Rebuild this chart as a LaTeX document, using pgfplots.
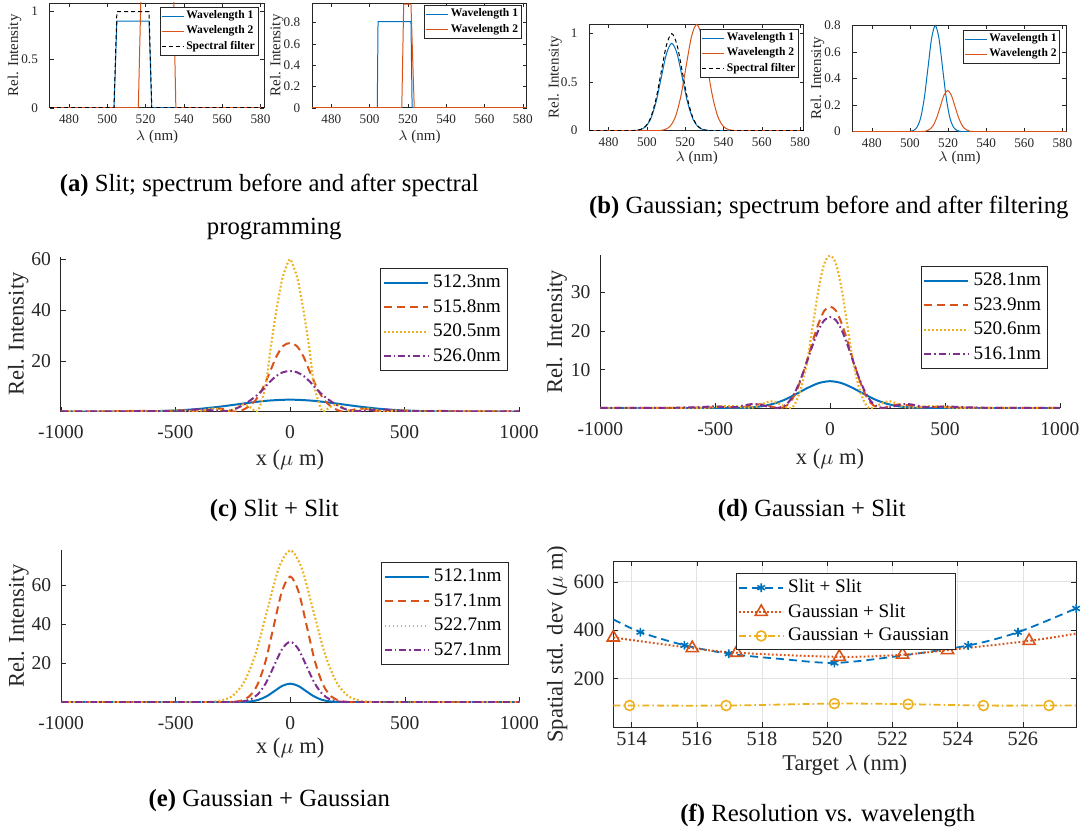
\documentclass[border=0pt]{standalone}
\usepackage{fontspec}
\setmainfont{Liberation Serif}
\usepackage{pgfplots}
\pgfplotsset{compat=1.18}
\definecolor{mblue}{rgb}{0,0.447,0.741}
\definecolor{morange}{rgb}{0.85,0.325,0.098}
\definecolor{myellow}{rgb}{0.929,0.694,0.125}
\definecolor{mpurple}{rgb}{0.494,0.184,0.556}
\definecolor{maxis}{rgb}{0.15,0.15,0.15}
\pgfplotsset{
  base/.style={scale only axis, anchor=south west, tick align=inside,
    axis line style={maxis}, every tick/.append style={maxis},
    /pgf/number format/assume math mode=true,
    tick label style={text=maxis}, label style={text=maxis},
    legend cell align=left, legend style={draw=maxis, fill=white, text=black}},
  smallax/.style={base, xmin=470, xmax=582, ymin=0, xtick={480,500,...,580},
    major tick length=2pt,
    tick label style={font=\fontsize{6.6}{8}\selectfont},
    label style={font=\fontsize{7.5}{9}\selectfont},
    xlabel={$\lambda$ (nm)}, ylabel={Rel. Intensity},
    yticklabel style={xshift=-2.5pt},
    legend style={font=\fontsize{5.8}{7}\selectfont\bfseries, inner sep=0.5pt, nodes={inner sep=1.1pt}},
    legend image code/.code={\draw[##1] (0pt,0pt) -- (11pt,0pt);}},
  midax/.style={base, axis lines*=left, x axis line style={-}, y axis line style={-},
    xmin=-1000, xmax=1000, ymin=0,
    xtick={-1000,-500,0,500,1000}, xticklabels={-1000,-500,0,500,1000},
    major tick length=2.5pt,
    tick label style={font=\fontsize{9.8}{11}\selectfont},
    label style={font=\fontsize{11.3}{13}\selectfont},
    xlabel={x ($\mu$ m)}, ylabel={Rel. Intensity},
    xticklabel style={yshift=-3.5pt}, yticklabel style={xshift=-1.5pt},
    legend style={font=\fontsize{9.6}{11}\selectfont, inner sep=1pt, nodes={inner sep=2.2pt}},
    legend image code/.code={\draw[##1] (0pt,0pt) -- (22pt,0pt);}},
  thinl/.style={line width=0.5pt},
  solidl/.style={line width=1pt, smooth},
  dashl/.style={line width=1pt, smooth, dash pattern=on 4pt off 2.5pt},
  dotl/.style={line width=1.1pt, smooth, dash pattern=on 0.9pt off 1.1pt},
  dashdotl/.style={line width=1pt, smooth, dash pattern=on 3.5pt off 1.5pt on 0.8pt off 1.5pt},
}
\begin{document}
\begin{tikzpicture}
\path (0pt,0pt) rectangle (543pt,418pt);

% ---------------- (a) left
\begin{axis}[smallax, at={(25pt,364pt)}, width=107.5pt, height=52.5pt, ymax=1.09,
  ytick={0,0.5,1},
  xlabel style={at={(axis description cs:0.5,-0.276)},anchor=center},
  ylabel style={at={(axis description cs:-0.165,0.5)},anchor=center},
  legend style={at={(0.972,0.962)},anchor=north east}]
\addplot[mblue, thinl] coordinates {(470,0)(503.5,0)(505,0.9)(521.8,0.9)(523.2,0)(582,0)};
\addlegendentry{Wavelength 1}
\addplot[morange, thinl] coordinates {(470,0)(516.2,0)(517.6,1.2)(534.6,1.2)(535.8,0)(582,0)};
\addlegendentry{Wavelength 2}
\addplot[black, thinl, dash pattern=on 2pt off 1.5pt] coordinates {(470,0)(503.5,0)(505,1)(521.8,1)(523.2,0)(582,0)};
\addlegendentry{Spectral filter}
\end{axis}

% ---------------- (a) right
\begin{axis}[smallax, at={(156.5pt,364pt)}, width=107.5pt, height=52.5pt, ymax=0.985,
  ytick={0,0.2,0.4,0.6,0.8},
  xlabel style={at={(axis description cs:0.5,-0.276)},anchor=center},
  ylabel style={at={(axis description cs:-0.165,0.5)},anchor=center},
  legend style={at={(0.977,0.98)},anchor=north east}]
\addplot[mblue, thinl] coordinates {(470,0)(504,0)(504.4,0.81)(521.6,0.81)(522.2,0)(582,0)};
\addlegendentry{Wavelength 1}
\addplot[morange, thinl] coordinates {(470,0)(516.8,0)(517.8,0.975)(521.6,0.975)(523.3,0)(582,0)};
\addlegendentry{Wavelength 2}
\end{axis}

% ---------------- (b) left
\begin{axis}[smallax, at={(295.5pt,352.5pt)}, width=107.5pt, height=53.5pt, ymax=1.1,
  ytick={0,0.5,1},
  xlabel style={at={(axis description cs:0.5,-0.252)},anchor=center},
  ylabel style={at={(axis description cs:-0.16,0.5)},anchor=center},
  legend style={at={(0.977,0.953)},anchor=north east}]
\addplot[mblue, thinl, smooth] coordinates {(470,0)(490,0)(493.75,0.002)(496.5,0.010)(499.25,0.040)(502,0.122)(504.75,0.292)(507.5,0.546)(510.25,0.794)(513,0.9)(515.75,0.794)(518.5,0.546)(521.25,0.292)(524,0.122)(526.75,0.040)(529.5,0.010)(532.25,0.002)(536,0)(582,0)};
\addlegendentry{Wavelength 1}
\addplot[morange, thinl, smooth] coordinates {(470,0)(503,0)(506.75,0.002)(509.5,0.012)(512.25,0.048)(515,0.148)(517.75,0.356)(520.5,0.664)(523.25,0.966)(526,1.095)(528.75,0.966)(531.5,0.664)(534.25,0.356)(537,0.148)(539.75,0.048)(542.5,0.012)(545.25,0.002)(549,0)(582,0)};
\addlegendentry{Wavelength 2}
\addplot[black, thinl, smooth, dash pattern=on 2pt off 1.5pt] coordinates {(470,0)(490,0)(493.75,0.002)(496.5,0.011)(499.25,0.044)(502,0.135)(504.75,0.325)(507.5,0.607)(510.25,0.883)(513,1)(515.75,0.883)(518.5,0.607)(521.25,0.325)(524,0.135)(526.75,0.044)(529.5,0.011)(532.25,0.002)(536,0)(582,0)};
\addlegendentry{Spectral filter}
\end{axis}

% ---------------- (b) right
\begin{axis}[smallax, at={(427.5pt,352pt)}, width=107pt, height=53.5pt, ymax=0.805,
  ytick={0,0.2,0.4,0.6,0.8},
  xlabel style={at={(axis description cs:0.5,-0.243)},anchor=center},
  ylabel style={at={(axis description cs:-0.165,0.5)},anchor=center},
  legend style={at={(0.972,0.953)},anchor=north east}]
\addplot[mblue, thinl, smooth] coordinates {(470,0)(497,0)(500,0.002)(501.9,0.009)(503.8,0.035)(505.7,0.108)(507.6,0.260)(509.5,0.485)(511.4,0.706)(513.3,0.8)(515.2,0.706)(517.1,0.485)(519,0.260)(520.9,0.108)(522.8,0.035)(524.7,0.009)(526.6,0.002)(530,0)(582,0)};
\addlegendentry{Wavelength 1}
\addplot[morange, thinl, smooth] coordinates {(470,0)(503,0)(506.15,0.001)(508.1,0.003)(510.05,0.014)(512,0.042)(513.95,0.101)(515.9,0.188)(517.85,0.274)(519.8,0.31)(521.75,0.274)(523.7,0.188)(525.65,0.101)(527.6,0.042)(529.55,0.014)(531.5,0.003)(533.45,0.001)(537,0)(582,0)};
\addlegendentry{Wavelength 2}
\end{axis}

% ---------------- (c)
\begin{axis}[midax, at={(30.5pt,211.65pt)}, width=229.7pt, height=77.7pt, ymax=61,
  ytick={20,40,60},
  xlabel style={at={(axis description cs:0.5,-0.31)},anchor=center},
  ylabel style={at={(axis description cs:-0.093,0.5)},anchor=center},
  legend style={at={(0.975,0.925)},anchor=north east}]
\addplot[mblue, solidl] coordinates {(-1000,0)(-800,0.02)(-700,0.05)(-600,0.16)(-500,0.44)(-400,1.04)(-300,2.01)(-200,3.22)(-100,4.28)(0,4.7)(100,4.28)(200,3.22)(300,2.01)(400,1.04)(500,0.44)(600,0.16)(700,0.05)(800,0.02)(1000,0)};
\addlegendentry{512.3nm}
\addplot[morange, dashl] coordinates {(-1000,0.1)(-800,0.1)(-650,0.3)(-560,0.1)(-500,0.4)(-450,0.5)(-400,0.1)(-360,0.5)(-320,1.2)(-280,0.8)(-240,0)(-210,0.5)(-180,2)(-150,4.5)(-120,9)(-90,15)(-60,21.5)(-30,25.8)(0,27)(30,25.8)(60,21.5)(90,15)(120,9)(150,4.5)(180,2)(210,0.5)(240,0)(280,0.8)(320,1.2)(360,0.5)(400,0.1)(450,0.5)(500,0.4)(560,0.1)(650,0.3)(800,0.1)(1000,0.1)};
\addlegendentry{515.8nm}
\addplot[myellow, dotl] coordinates {(-1000,0)(-700,0.1)(-600,0.2)(-520,0.3)(-470,0.5)(-420,0)(-380,0.5)(-340,1.2)(-300,0.6)(-265,0.1)(-235,1.5)(-205,2.8)(-175,1.8)(-145,0)(-126,3.5)(-104,11.4)(-85,24.5)(-63,37.7)(-37,50.8)(-20,56)(0,60)(20,56)(37,50.8)(63,37.7)(85,24.5)(104,11.4)(126,3.5)(145,0)(175,1.8)(205,2.8)(235,1.5)(265,0.1)(300,0.6)(340,1.2)(380,0.5)(420,0)(470,0.5)(520,0.3)(600,0.2)(700,0.1)(1000,0)};
\addlegendentry{520.5nm}
\addplot[mpurple, dashdotl] coordinates {(-1000,0.1)(-800,0.1)(-600,0.2)(-500,0.3)(-450,0.5)(-400,0.9)(-340,0.5)(-300,0.2)(-270,0.3)(-240,1)(-210,2.3)(-180,4)(-150,6)(-120,8.5)(-90,11.5)(-60,14)(-30,15.5)(0,16)(30,15.5)(60,14)(90,11.5)(120,8.5)(150,6)(180,4)(210,2.3)(240,1)(270,0.3)(300,0.2)(340,0.5)(400,0.9)(450,0.5)(500,0.3)(600,0.2)(800,0.1)(1000,0.1)};
\addlegendentry{526.0nm}
\end{axis}

% ---------------- (d)
\begin{axis}[midax, at={(301pt,213.35pt)}, width=230.3pt, height=76.65pt, ymax=39.6,
  ytick={10,20,30},
  xlabel style={at={(axis description cs:0.5,-0.333)},anchor=center},
  ylabel style={at={(axis description cs:-0.095,0.5)},anchor=center},
  legend style={at={(0.974,0.928)},anchor=north east}]
\addplot[mblue, solidl] coordinates {(-1000,0)(-500,0)(-400,0.06)(-350,0.19)(-300,0.49)(-250,1.1)(-200,2.14)(-150,3.6)(-100,5.2)(-50,6.5)(0,7)(50,6.5)(100,5.2)(150,3.6)(200,2.14)(250,1.1)(300,0.49)(350,0.19)(400,0.06)(500,0)(1000,0)};
\addlegendentry{528.1nm}
\addplot[morange, dashl] coordinates {(-1000,0.1)(-700,0.1)(-530,0.2)(-480,0.4)(-430,0.2)(-380,0.3)(-340,0.8)(-300,1.0)(-260,0.5)(-225,0)(-200,0.3)(-175,1.5)(-150,4)(-125,7.8)(-100,12.5)(-75,17.5)(-50,22)(-25,25.3)(0,26.3)(25,25.3)(50,22)(75,17.5)(100,12.5)(125,7.8)(150,4)(175,1.5)(200,0.3)(225,0)(260,0.5)(300,1.0)(340,0.8)(380,0.3)(430,0.2)(480,0.4)(530,0.2)(700,0.1)(1000,0.1)};
\addlegendentry{523.9nm}
\addplot[myellow, dotl] coordinates {(-1000,0)(-600,0.1)(-520,0.2)(-470,0.5)(-420,0.5)(-370,0.2)(-330,0.2)(-290,1.2)(-260,1.8)(-230,1.4)(-200,0.5)(-170,0)(-150,1.5)(-125,5.5)(-100,12)(-75,21.5)(-50,31)(-25,37.5)(0,39.5)(25,37.5)(50,31)(75,21.5)(100,12)(125,5.5)(150,1.5)(170,0)(200,0.5)(230,1.4)(260,1.8)(290,1.2)(330,0.2)(370,0.2)(420,0.5)(470,0.5)(520,0.2)(600,0.1)(1000,0)};
\addlegendentry{520.6nm}
\addplot[mpurple, dashdotl] coordinates {(-1000,0.1)(-700,0.1)(-560,0.3)(-510,0.5)(-460,0.3)(-410,0.3)(-370,0.8)(-330,1.1)(-290,0.7)(-240,0)(-200,0.6)(-175,2)(-150,4.5)(-125,8)(-100,12.2)(-75,16.5)(-50,20.3)(-25,22.8)(0,23.6)(25,22.8)(50,20.3)(75,16.5)(100,12.2)(125,8)(150,4.5)(175,2)(200,0.6)(240,0)(290,0.7)(330,1.1)(370,0.8)(410,0.3)(460,0.3)(510,0.5)(560,0.3)(700,0.1)(1000,0.1)};
\addlegendentry{516.1nm}
\end{axis}

% ---------------- (e)
\begin{axis}[midax, at={(30.65pt,66pt)}, width=229.7pt, height=76.15pt, ymax=78,
  ytick={20,40,60},
  xlabel style={at={(axis description cs:0.5,-0.30)},anchor=center},
  ylabel style={at={(axis description cs:-0.093,0.5)},anchor=center},
  legend style={at={(0.976,0.92)},anchor=north east}]
\addplot[mblue, solidl] coordinates {(-1000,0)(-272,0)(-238,0.02)(-204,0.11)(-170,0.42)(-136,1.29)(-102,3.08)(-68,5.76)(-34,8.38)(0,9.5)(34,8.38)(68,5.76)(102,3.08)(136,1.29)(170,0.42)(204,0.11)(238,0.02)(272,0)(1000,0)};
\addlegendentry{512.1nm}
\addplot[morange, dashl] coordinates {(-1000,0)(-288,0)(-252,0.14)(-216,0.72)(-180,2.83)(-144,8.73)(-108,20.9)(-72,39.1)(-36,56.9)(0,64.5)(36,56.9)(72,39.1)(108,20.9)(144,8.73)(180,2.83)(216,0.72)(252,0.14)(288,0)(1000,0)};
\addlegendentry{517.1nm}
\addplot[myellow, dotl] coordinates {(-1000,0)(-400,0)(-350,0.17)(-300,0.87)(-250,3.42)(-200,10.6)(-150,25.3)(-100,47.3)(-50,68.8)(0,78)(50,68.8)(100,47.3)(150,25.3)(200,10.6)(250,3.42)(300,0.87)(350,0.17)(400,0)(1000,0)};
\addlegendentry{522.7nm}
\addplot[mpurple, dashdotl] coordinates {(-1000,0)(-280,0)(-245,0.07)(-210,0.34)(-175,1.36)(-140,4.19)(-105,10.07)(-70,18.8)(-35,27.36)(0,31)(35,27.36)(70,18.8)(105,10.07)(140,4.19)(175,1.36)(210,0.34)(245,0.07)(280,0)(1000,0)};
\addlegendentry{527.1nm}
\end{axis}

% ---------------- (f)
\begin{axis}[base, at={(307.45pt,53.5pt)}, width=232pt, height=83.15pt,
  xmin=513.44, xmax=527.63, ymin=0, ymax=685,
  xtick={514,516,...,526}, ytick={200,400,600},
  grid=major, grid style={gray!22, line width=0.4pt},
  major tick length=2.5pt,
  tick label style={font=\fontsize{10.2}{11}\selectfont},
  label style={font=\fontsize{11.3}{13}\selectfont},
  xlabel={Target $\lambda$ (nm)}, ylabel={Spatial std. dev ($\mu$ m)},
  xticklabel style={yshift=1pt}, yticklabel style={xshift=-1pt},
  xlabel style={at={(axis description cs:0.5,-0.229)},anchor=center},
  ylabel style={at={(axis description cs:-0.121,0.5)},anchor=center},
  legend style={at={(0.265,0.928)}, anchor=north west, font=\fontsize{9.6}{11}\selectfont, inner sep=1pt, nodes={inner sep=2pt}},
  legend image code/.code={\draw[mark repeat=2, mark phase=2, #1] plot coordinates {(0pt,0pt) (11pt,0pt) (22pt,0pt)};}]
\addplot[forget plot, mblue, line width=0.9pt, smooth, dash pattern=on 4pt off 2.5pt] coordinates {(513.44,445)(514.27,392)(515.62,338)(516.98,303)(518.6,281)(520.22,265)(522,290)(524.32,337)(525.85,392)(527.63,490)};
\addplot[forget plot, mblue, only marks, mark=asterisk, mark size=2.2pt, mark options={solid, line width=0.8pt}] coordinates {(514.27,392)(515.62,338)(516.98,303)(520.22,265)(524.32,337)(525.85,392)(527.63,490)};
\addplot[forget plot, morange, line width=1pt, smooth, dash pattern=on 0.9pt off 1.1pt] coordinates {(513.44,370)(515.86,326)(517.22,307)(520.37,290)(522.31,299)(523.69,318)(526.19,356)(527.63,386)};
\addplot[forget plot, morange, only marks, mark=triangle, mark size=3.5pt, mark options={solid, line width=0.8pt}] coordinates {(513.44,370)(515.86,326)(517.22,307)(520.37,290)(522.31,299)(523.69,318)(526.19,356)};
\addplot[forget plot, myellow, line width=0.9pt, smooth, dash pattern=on 3.5pt off 1.5pt on 0.8pt off 1.5pt] coordinates {(513.44,89)(513.94,89)(516.9,89)(520.22,97)(522.48,94.5)(524.79,89)(526.8,89)(527.63,89)};
\addplot[forget plot, myellow, only marks, mark=o, mark size=2.5pt, mark options={solid, line width=0.8pt}] coordinates {(513.94,89)(516.9,89)(520.22,97)(522.48,94.5)(524.79,89)(526.8,89)};
\addlegendimage{mblue, line width=0.9pt, dash pattern=on 4pt off 2.5pt, mark=asterisk, mark size=2.2pt, mark options={solid, line width=0.8pt}}
\addlegendentry{Slit + Slit}
\addlegendimage{morange, line width=1pt, dash pattern=on 0.9pt off 1.1pt, mark=triangle, mark size=3.5pt, mark options={solid, line width=0.8pt}}
\addlegendentry{Gaussian + Slit}
\addlegendimage{myellow, line width=0.9pt, dash pattern=on 3.5pt off 1.5pt on 0.8pt off 1.5pt, mark=o, mark size=2.5pt, mark options={solid, line width=0.8pt}}
\addlegendentry{Gaussian + Gaussian}
\end{axis}

% ---------------- captions
\begin{scope}[every node/.style={font=\fontsize{12.4}{14}\selectfont, inner sep=0pt}]
\node at (135pt,325pt) {\textbf{(a)} Slit; spectrum before and after spectral};
\node at (137.5pt,303pt) {programming};
\node at (415.5pt,314pt) {\textbf{(b)} Gaussian; spectrum before and after filtering};
\node at (137.5pt,162pt) {\textbf{(c)} Slit + Slit};
\node at (407pt,162pt) {\textbf{(d)} Gaussian + Slit};
\node at (135pt,16.5pt) {\textbf{(e)} Gaussian + Gaussian};
\node at (415pt,9pt) {\textbf{(f)} Resolution vs. wavelength};
\end{scope}
\end{tikzpicture}
\end{document}
